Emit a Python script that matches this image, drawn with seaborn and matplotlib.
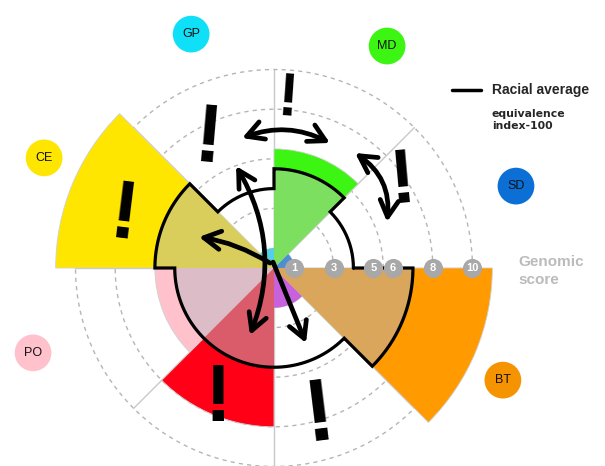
import numpy as np
import seaborn as sns
import matplotlib
matplotlib.use("Agg")
import matplotlib.pyplot as plt
from matplotlib.lines import Line2D
from matplotlib import transforms

# sectors run counter-clockwise from 3 o'clock, 45 deg each
sectors = ["SD", "MD", "GP", "CE", "PO", "RD", "PU", "BT"]
scores = [1, 6, 1, 11, 6, 8, 2, 11]
racial_avg = [4, 5, 4, 6, 5, 5, 5, 7]
bright = ["#0b6fd6", "#3cf512", "#0fe0f7", "#ffe600", "#ffc2cc", "#ff0017", "#cc55ee", "#ff9a00"]
muted = ["#4d8fd1", "#7ddf5f", "#55cfe3", "#d9cd5c", "#dcbcc7", "#da5b6a", "#c862dc", "#d9a65c"]

score_ticks = [1, 3, 5, 6, 8, 10]
dashed_rings = [3, 5.5, 8, 10]

# round badges outside the chart (angle deg, radius)
badge_names = ["GP", "MD", "SD", "BT", "PO", "CE"]
badge_colors = ["#0fe0f7", "#3cf512", "#0b6fd6", "#f59300", "#ffc2cc", "#ffe600"]
badge_ang = [109.5, 63.0, 18.7, 333.9, 199.4, 154.4]
badge_rad = [12.5, 12.55, 12.87, 12.84, 12.87, 12.84]

# hand drawn exclamation marks (angle deg, radius, size, tilt)
bang_ang = [85.7, 116.4, 159.6, 35.2, 246.2, 287.8]
bang_rad = [8.74, 7.48, 8.11, 7.95, 6.99, 7.57]
bang_size = [44, 60, 60, 55, 58, 64]
bang_tilt = [-4, -5, -7, 5, 0, 7]

# hand drawn arrows: (tail angle, tail r, head angle, head r, style, rad)
arrows = [
    (103.8, 6.74, 65.9, 6.90, "<->", -0.22),
    (54.8, 7.09, 22.2, 6.15, "<->", -0.3),
    (110.4, 5.48, 250.3, 3.59, "<->", -0.24),
    (129.0, 0.32, 157.5, 4.09, "->", 0.1),
    (99.0, 0.30, 293.1, 4.11, "->", 0.0),
]

sns.set_theme(style="white")
plt.rcParams["font.family"] = ["Liberation Sans", "DejaVu Sans"]

W, H = 605, 466
cx, cy, px_per = 274, 268, 19.85
rmax = 14
half = rmax * px_per

fig = plt.figure(figsize=(W / 100, H / 100), dpi=100)
ax = fig.add_axes([(cx - half) / W, (H - cy - half) / H, 2 * half / W, 2 * half / H],
                  projection="polar")
ax.set_ylim(0, rmax)
ax.set_axis_off()

width = np.pi / 4
theta = np.arange(len(sectors)) * width + width / 2

# grid
t = np.linspace(0, 2 * np.pi, 500)
for r in dashed_rings:
    ax.plot(t, np.full_like(t, r), ls=(0, (3, 3)), color="#b5b5b5", lw=1, zorder=1)
for k in range(len(sectors)):
    ax.plot([k * width, k * width], [0, 10], color="#c8c8c8", lw=1, zorder=1)

ax.bar(theta, scores, width=width, color=bright, edgecolor="#d0d0d0", linewidth=0.6, zorder=2)
ax.bar(theta, np.minimum(scores, racial_avg), width=width, color=muted, linewidth=0, zorder=3)

# racial average step outline
lt, lr = [], []
for k, a in enumerate(racial_avg):
    seg = np.linspace(k * width, (k + 1) * width, 40)
    lt.extend(seg)
    lr.extend([a] * len(seg))
lt.append(2 * np.pi)
lr.append(racial_avg[0])
ax.plot(lt, lr, color="black", lw=2.3, zorder=5, solid_joinstyle="miter")

# score badges along the 0 deg axis
ax.scatter(np.zeros(len(score_ticks)), score_ticks, s=190, color="#a8a8a8", zorder=6,
           linewidths=0, clip_on=False)
for v in score_ticks:
    ax.text(0, v, str(v), color="white", fontsize=8, fontweight="bold",
            ha="center", va="center", zorder=7)

# group badges
ax.scatter(np.deg2rad(badge_ang), badge_rad, s=700, color=badge_colors, zorder=6,
           linewidths=0, clip_on=False)
for name, a, r in zip(badge_names, badge_ang, badge_rad):
    ax.text(np.deg2rad(a), r, name, fontsize=9, ha="center", va="center", zorder=7,
            color="#111111")

# scribbles
shift = transforms.offset_copy(ax.transData, fig=fig, y=-5, units="dots")
for a, r, s, tilt in zip(bang_ang, bang_rad, bang_size, bang_tilt):
    ax.text(np.deg2rad(a), r, "!", fontsize=s, fontweight="bold", rotation=tilt,
            ha="center", va="center", color="black", zorder=8, transform=shift)
for a0, r0, a1, r1, style, rad in arrows:
    ax.annotate("", xy=(np.deg2rad(a1), r1), xytext=(np.deg2rad(a0), r0),
                arrowprops=dict(arrowstyle=f"{style},head_length=1.0,head_width=0.55",
                                lw=3.4, color="black", shrinkA=0, shrinkB=0,
                                connectionstyle=f"arc3,rad={rad}"),
                zorder=8)

# legend & axis title
fig.add_artist(Line2D([452 / W, 481 / W], [1 - 90 / H] * 2, color="black", lw=2.5))
fig.text(492 / W, 1 - 90 / H, "Racial average", fontsize=10, fontweight="bold", va="center")
fig.text(492 / W, 1 - 120 / H, "equivalence\nindex-100", fontsize=7.8, fontweight="bold",
         va="center", family="DejaVu Sans", linespacing=1.25)
fig.text(518 / W, 1 - 271 / H, "Genomic\nscore", fontsize=11, fontweight="bold",
         color="#bbbbbb", va="center", linespacing=1.3)

fig.savefig("out.png", dpi=100)
